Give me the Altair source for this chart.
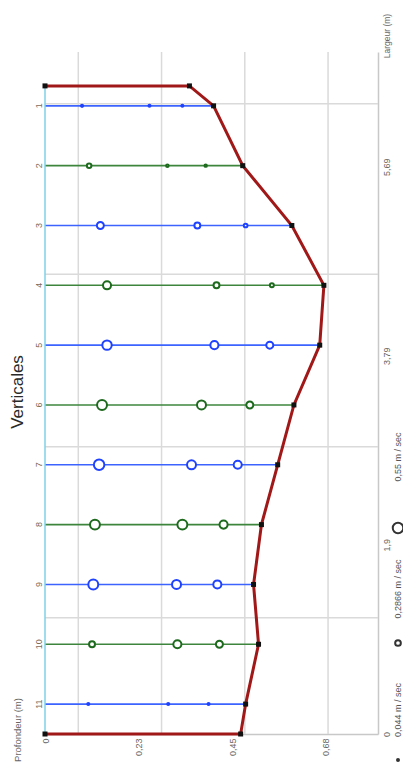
import altair as alt
import pandas as pd

# ---------------- data ----------------
vertical_ids = list(range(1, 12))
vertical_largeur = [6.3, 5.7, 5.1, 4.5, 3.9, 3.3, 2.7, 2.1, 1.5, 0.9, 0.3]
vertical_bed = [0.405, 0.475, 0.593, 0.670, 0.660, 0.598, 0.559, 0.520, 0.501, 0.513, 0.482]

depth_p1 = [0.089, 0.106, 0.133, 0.149, 0.149, 0.137, 0.130, 0.120, 0.116, 0.113, 0.104]
depth_p2 = [0.251, 0.294, 0.366, 0.412, 0.407, 0.376, 0.352, 0.330, 0.316, 0.318, 0.296]
depth_p3 = [0.330, 0.386, 0.482, 0.545, 0.540, 0.492, 0.463, 0.429, 0.414, 0.419, 0.393]
vel_p1 = [0.06, 0.22, 0.36, 0.42, 0.49, 0.52, 0.55, 0.52, 0.52, 0.30, 0.05]
vel_p2 = [0.05, 0.09, 0.30, 0.30, 0.42, 0.47, 0.47, 0.52, 0.47, 0.42, 0.05]
vel_p3 = [0.044, 0.08, 0.17, 0.19, 0.36, 0.36, 0.42, 0.42, 0.42, 0.36, 0.045]

bank_largeur = [6.5, 0.0]
bank_bed = [0.347, 0.470]

depth_ticks = [0, 0.225, 0.45, 0.675]
depth_tick_labels = ["0", "0,23", "0,45", "0,68"]
largeur_ticks = [0, 1.897, 3.794, 5.69]
largeur_tick_labels = ["0", "1,9", "3,79", "5,69"]
depth_grid = [0.08, 0.28, 0.48, 0.68]
largeur_grid = [1.165, 2.88, 4.61, 6.32]

legend_velocities = [0.044, 0.2866, 0.55]
legend_labels = ["0,044 m / sec", "0,2866 m / sec", "0,55 m / sec"]

# ---------------- tables ----------------
profile = pd.DataFrame({
    "order": list(range(len(vertical_bed) + 4)),
    "depth": [0, bank_bed[0]] + vertical_bed + [bank_bed[1], 0],
    "largeur": [bank_largeur[0]] * 2 + vertical_largeur + [bank_largeur[1]] * 2,
})
surface = pd.DataFrame({"depth": [0, 0], "largeur": bank_largeur})
verts = pd.DataFrame({
    "id": vertical_ids,
    "largeur": vertical_largeur,
    "bed": vertical_bed,
    "kind": ["odd" if i % 2 else "even" for i in vertical_ids],
})
rows = []
for i, vid in enumerate(vertical_ids):
    for d, v in ((depth_p1[i], vel_p1[i]), (depth_p2[i], vel_p2[i]), (depth_p3[i], vel_p3[i])):
        rows.append({"id": vid, "largeur": vertical_largeur[i], "depth": d, "vel": v,
                     "kind": "odd" if vid % 2 else "even"})
points = pd.DataFrame(rows)
vgrid = pd.DataFrame({"depth": depth_grid})
hgrid = pd.DataFrame({"largeur": largeur_grid})

# ---------------- scales / axes ----------------
FONT = "Liberation Sans"
x_scale = alt.Scale(domain=[0, 0.8], nice=False, zero=False)
y_scale = alt.Scale(domain=[0, 6.84], nice=False, zero=False)
x_axis = alt.Axis(
    orient="bottom", values=depth_ticks,
    labelExpr=f"{depth_tick_labels}[indexof({depth_ticks}, datum.value)]",
    labelAngle=270, labelAlign="right", labelBaseline="middle", labelPadding=4,
    ticks=False, tickSize=0, grid=False, domainColor="#c8c8c8", domainWidth=1.5,
    labelFontSize=9, labelColor="#666666", labelFont=FONT, labelFlush=False,
    labelOverlap=False, title=None,
)
y_axis = alt.Axis(
    orient="right", values=largeur_ticks,
    labelExpr=f"{largeur_tick_labels}[indexof({largeur_ticks}, datum.value)]",
    labelAngle=270, labelAlign="center", labelBaseline="top", labelPadding=4,
    ticks=False, tickSize=0, grid=False, domainColor="#c8c8c8", domainWidth=1.5,
    labelFontSize=9, labelColor="#666666", labelFont=FONT, labelFlush=False,
    labelOverlap=False, title=None,
)


def X(field="depth"):
    return alt.X(f"{field}:Q", scale=x_scale, axis=x_axis)


def Y(field="largeur"):
    return alt.Y(f"{field}:Q", scale=y_scale, axis=y_axis)


size_scale = alt.Scale(type="pow", exponent=2, domain=[0.044, 0.55], range=[4, 110])
line_colors = alt.Scale(domain=["odd", "even"], range=["#3d63ff", "#3d853d"])
point_colors = alt.Scale(domain=["odd", "even"], range=["#1f42ff", "#1d691d"])

# ---------------- layers ----------------
vgrid_layer = alt.Chart(vgrid).mark_rule(color="#dadada", strokeWidth=1.5).encode(x=X())
hgrid_layer = alt.Chart(hgrid).mark_rule(color="#dadada", strokeWidth=1.5).encode(y=Y())

rules = alt.Chart(verts).transform_calculate(depth="0").mark_rule(strokeWidth=1.6).encode(
    x=X(),
    x2=alt.X2("bed:Q"),
    y=Y(),
    color=alt.Color("kind:N", scale=line_colors, legend=None),
)

bed_line = alt.Chart(profile).mark_line(color="#a01818", strokeWidth=3).encode(
    x=X(), y=Y(), order="order:Q"
)
surface_line = alt.Chart(surface).mark_line(color="#80d2e6", strokeWidth=1.5).encode(
    x=X(), y=Y()
)

pts = alt.Chart(points).mark_point(
    shape="circle", filled=False, fill="white", fillOpacity=1, strokeWidth=2, opacity=1
).encode(
    x=X(), y=Y(),
    size=alt.Size("vel:Q", scale=size_scale, legend=None),
    stroke=alt.Stroke("kind:N", scale=point_colors, legend=None),
)

squares = alt.Chart(profile).mark_square(color="#111111", size=25, opacity=1).encode(
    x=X(), y=Y()
)

vert_labels = alt.Chart(verts).mark_text(
    angle=270, fontSize=9, color="#7d6a58", font=FONT, align="center", baseline="middle"
).encode(x=alt.value(-6.5), y=Y(), text="id:N")


def note(txt, x, y, size, color="#555555", weight="normal"):
    return alt.Chart(pd.DataFrame({"t": [txt]})).mark_text(
        angle=270, fontSize=size, color=color, font=FONT, fontWeight=weight,
        align="center", baseline="middle"
    ).encode(x=alt.value(x), y=alt.value(y), text="t:N")


title_layer = note("Verticales", -27, 340, 17, "#2a2a2a")
prof_title = note("Profondeur (m)", -27, 678, 9.5, "#666666")
larg_title = note("Largeur (m)", 341.5, -16, 8.5, "#666666")

legend_layers = []
legend_sym_pos = [(353, 708), (353, 591), (353, 476)]
legend_txt_pos = [(353, 658), (353, 537), (353, 405)]
for v, lab, (sx, sy), (tx, ty) in zip(legend_velocities, legend_labels, legend_sym_pos, legend_txt_pos):
    legend_layers.append(
        alt.Chart(pd.DataFrame({"vel": [v]})).mark_point(
            shape="circle", filled=False, fill="white", fillOpacity=1,
            strokeWidth=2, color="#333333", opacity=1
        ).encode(x=alt.value(sx), y=alt.value(sy),
                 size=alt.Size("vel:Q", scale=size_scale, legend=None))
    )
    legend_layers.append(note(lab, tx, ty, 9, "#555555"))

chart = alt.layer(
    vgrid_layer, hgrid_layer, rules, surface_line, bed_line, pts, squares,
    vert_labels, title_layer, prof_title, larg_title, *legend_layers
).properties(
    width=333, height=682,
    autosize=alt.AutoSizeParams(type="none"),
    padding={"left": 37, "top": 44, "right": 25, "bottom": 30},
).configure_view(strokeWidth=0)

chart.save("out.html", embed_options={"renderer": "svg", "actions": False})
